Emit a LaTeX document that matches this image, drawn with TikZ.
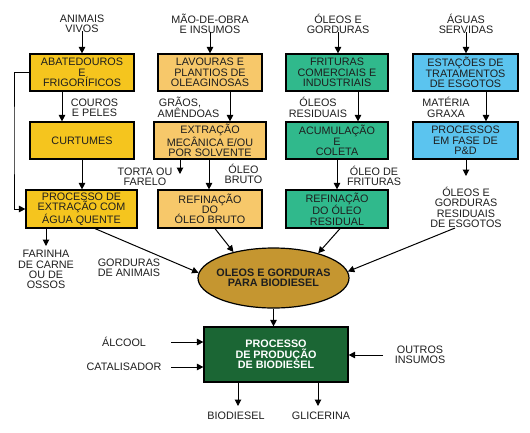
\documentclass[tikz,border=0pt]{standalone}
\usepackage{fontspec}
\setmainfont{Liberation Sans}
\usetikzlibrary{arrows.meta,shapes.geometric}
\definecolor{cyel}{HTML}{F5C51E}
\definecolor{corg}{HTML}{F7C86A}
\definecolor{cgrn}{HTML}{30B98C}
\definecolor{cblu}{HTML}{5BC4EF}
\definecolor{cgold}{HTML}{C59630}
\definecolor{cdark}{HTML}{1B6634}
\definecolor{ctxt}{HTML}{1E1E1E}
\begin{document}
\begin{tikzpicture}[x=1pt,y=-1pt,
  every node/.style={font=\fontsize{10.8}{10.3}\selectfont, text=ctxt, inner sep=0pt, align=center},
  box/.style={draw=black, line width=1.2pt, minimum height=37pt, anchor=center},
  arr/.style={-{Triangle[length=6.5pt,width=6.5pt]}, line width=1pt, draw=black},
  bold/.style={font=\fontsize{10.8}{10.3}\selectfont\bfseries}]
\useasboundingbox (0,0) rectangle (530,432);

% top inputs
\node (anim) at (82,24) {ANIMAIS\\VIVOS};
\node (mao) at (210,24) {MÃO-DE-OBRA\\E INSUMOS};
\node (oleo) at (338,24) {ÓLEOS E\\GORDURAS};
\node (agua) at (466,24) {ÁGUAS\\SERVIDAS};

% row 1
\node[box, fill=cyel, minimum width=104pt] (abat) at (82,72.5) {ABATEDOUROS\\E\\FRIGORÍFICOS};
\node[box, fill=corg, minimum width=104pt] (lav) at (210,72.5) {LAVOURAS E\\PLANTIOS DE\\OLEAGINOSAS};
\node[box, fill=cgrn, minimum width=102pt] (frit) at (337,72.5) {FRITURAS\\COMERCIAIS E\\INDUSTRIAIS};
\node[box, fill=cblu, minimum width=105pt] (esta) at (465.5,72.5) {ESTAÇÕES DE\\TRATAMENTOS\\DE ESGOTOS};

% row 2
\node[box, fill=cyel, minimum width=104pt] (curt) at (82,140.5) {CURTUMES};
\node[box, fill=corg, minimum width=112pt] (extr) at (210,140.5) {EXTRAÇÃO\\MECÂNICA E/OU\\POR SOLVENTE};
\node[box, fill=cgrn, minimum width=102pt] (acum) at (337,140.5) {ACUMULAÇÃO\\E\\COLETA};
\node[box, fill=cblu, minimum width=105pt] (pd) at (465.5,140.5) {PROCESSOS\\EM FASE DE\\P\&D};

% row 3
\node[box, fill=cyel, minimum width=111pt, minimum height=38pt] (pext) at (81.5,209) {PROCESSO DE\\EXTRAÇÃO COM\\ÁGUA QUENTE};
\node[box, fill=corg, minimum width=104pt, minimum height=38pt] (refb) at (210,209) {REFINAÇÃO\\DO\\ÓLEO BRUTO};
\node[box, fill=cgrn, minimum width=102pt, minimum height=38pt] (refr) at (337,209) {REFINAÇÃO\\DO ÓLEO\\RESIDUAL};
\node (esg) at (466,207.5) {ÓLEOS E\\GORDURAS\\RESIDUAIS\\DE ESGOTOS};

% mid labels
\node (cour) at (94.5,107.5) {COUROS\\E PELES};
\node (grao1) at (180,102) {GRÃOS,};
\node (grao2) at (188.5,113) {AMÊNDOAS};
\node (olres) at (318,107.5) {ÓLEOS\\RESIDUAIS};
\node (mat) at (446,107.5) {MATÉRIA\\GRAXA};
\node (torta) at (145,177) {TORTA OU\\FARELO};
\node (obru) at (243.5,174) {ÓLEO\\BRUTO};
\node (ofri) at (374,176) {ÓLEO DE\\FRITURAS};
\node (fari) at (46,269.5) {FARINHA\\DE CARNE\\OU DE\\OSSOS};
\node (gani) at (129,267.5) {GORDURAS\\DE ANIMAIS};

% ellipse
\node[ellipse, draw=black, line width=1.2pt, fill=cgold, minimum width=151pt, minimum height=60pt] (ell) at (273.5,278) {};
\node[bold] (ellt) at (ell.center) {OLEOS E GORDURAS\\PARA BIODIESEL};

% final process
\node[draw=black, line width=1.2pt, fill=cdark, minimum width=144pt, minimum height=55pt, text=white, bold] (fin) at (276,354.5) {PROCESSO\\DE PRODUÇÃO\\DE BIODIESEL};

\node (alc) at (124,342) {ÁLCOOL};
\node (cat) at (124,367) {CATALISADOR};
\node (outr) at (420,355) {OUTROS\\INSUMOS};
\node (bio) at (236,416) {BIODIESEL};
\node (gli) at (321,416) {GLICERINA};

% helper coordinates
\coordinate (xa) at (62,0);
\coordinate (xb) at (230,0);
\coordinate (xc) at (358,0);
\coordinate (xd) at (486,0);
\coordinate (xe) at (82,0);
\coordinate (xf) at (209,0);
\coordinate (xg) at (337,0);
\coordinate (loopx) at (14,140);
\coordinate (tortaend) at (180,174);
\coordinate (pdend) at (466,176);
\coordinate (x95) at (95,0);
\coordinate (x215) at (215,0);
\coordinate (x340) at (340,0);
\coordinate (esgs) at (455,228);
\coordinate (x46) at (46,0);
\coordinate (fariend) at (46,246);
\coordinate (alcs) at (171,342);
\coordinate (cats) at (171,367);
\coordinate (outs) at (383,355);
\coordinate (bioend) at (238,406);
\coordinate (gliend) at (318,406);

% arrows
\draw[arr] (anim.south) ++(0,-2) -- (anim.south |- abat.north);
\draw[arr] (mao.south) ++(0,-2) -- (mao.south |- lav.north);
\draw[arr] (oleo.south) ++(0,-2) -- (oleo.south |- frit.north);
\draw[arr] (agua.south) ++(0,-2) -- (agua.south |- esta.north);

\draw[arr] (abat.south -| xa) -- (curt.north -| xa);
\draw[arr] (lav.south -| xb) -- (extr.north -| xb);
\draw[arr] (frit.south -| xc) -- (acum.north -| xc);
\draw[arr] (esta.south -| xd) -- (pd.north -| xd);

\draw[arr] (curt.south -| xe) -- (pext.north -| xe);
\draw[arr] (abat.west) -| (loopx) |- (pext.west);
\draw[arr] (extr.south -| tortaend) -- (tortaend);
\draw[arr] (extr.south -| xf) -- (refb.north -| xf);
\draw[arr] (acum.south -| xg) -- (refr.north -| xg);
\draw[arr] (pd.south -| pdend) -- (pdend);

\draw[arr] (pext.south -| x95) -- (ell.176);
\draw[arr] (refb.south -| x215) -- (ell.147);
\draw[arr] (refr.south -| x340) -- (ell.29);
\draw[arr] (esgs) -- (ell.5);
\draw[arr] (pext.south -| x46) -- (fariend);

\draw[arr] (ell.south) -- (ell.south |- fin.north);
\draw[arr] (alcs) -- (fin.west |- alcs);
\draw[arr] (cats) -- (fin.west |- cats);
\draw[arr] (outs) -- (fin.east |- outs);
\draw[arr] (fin.south -| bioend) -- (bioend);
\draw[arr] (fin.south -| gliend) -- (gliend);
\end{tikzpicture}
\end{document}
